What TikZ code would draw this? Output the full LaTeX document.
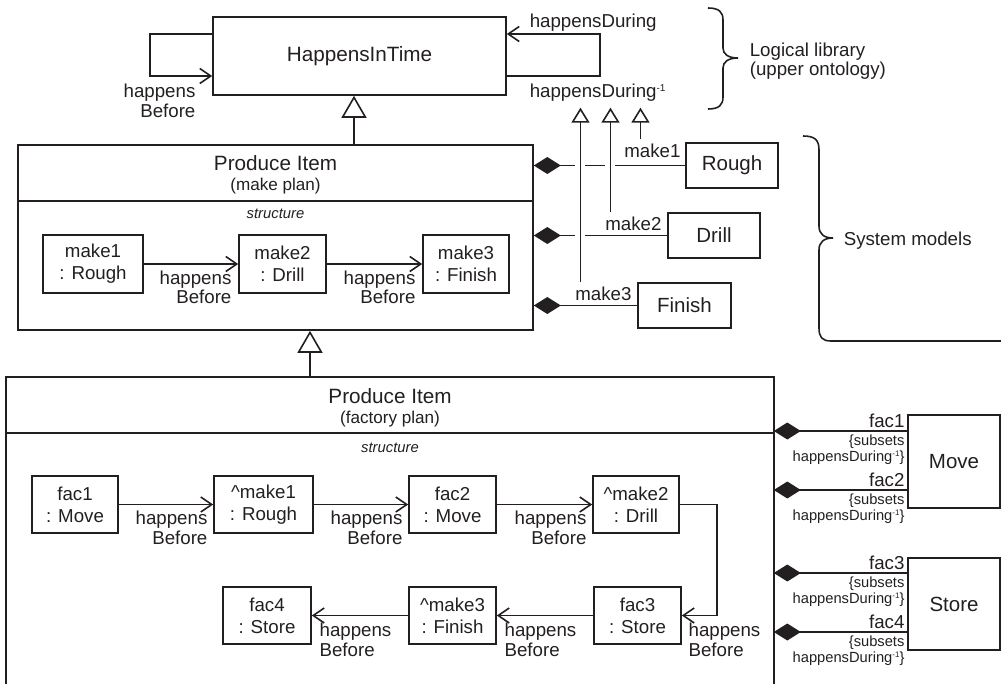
\documentclass[tikz,border=0pt]{standalone}
\usepackage{fontspec}
\setmainfont{Liberation Sans}
\usetikzlibrary{arrows.meta,calc}
\definecolor{ink}{RGB}{35,31,32}

% font sizes (1pt = one unit of the drawing)
\newcommand\fTitle{\fontsize{20.7}{24}\selectfont}
\newcommand\fSub{\fontsize{17.1}{20}\selectfont}
\newcommand\fBox{\fontsize{18.7}{22}\selectfont}
\newcommand\fBig{\fontsize{20.5}{24}\selectfont}
\newcommand\fLbl{\fontsize{18.7}{19.5}\selectfont}
\newcommand\fSmall{\fontsize{14.7}{16}\selectfont}
\newcommand\fStruct{\fontsize{14.8}{17}\selectfont\itshape}
% inverse-relation superscripts
\newcommand\invsup{\raisebox{6pt}{\fontsize{10}{10}\selectfont -1}}
\newcommand\invsupsm{\raisebox{4.8pt}{\fontsize{8}{8}\selectfont -1}}

\begin{document}
\begin{tikzpicture}[x=1pt, y=-1pt, line width=1.6pt, color=ink,
  every node/.style={inner sep=0pt},
  box/.style={draw, align=center},
  part/.style={box, font=\fBox, minimum height=57pt},
  cls/.style={box, font=\fBig, minimum height=45pt, minimum width=92pt},
  lbl/.style={font=\fLbl},
  sublbl/.style={font=\fSmall, align=right},
  hb/.style={-{Straight Barb[length=11pt,width=15pt]}},
  gen/.style={-{Triangle[open,length=22pt,width=25pt,fill=white]}},
  gensm/.style={-{Triangle[open,length=15pt,width=18pt,fill=white]}},
  comp/.style={{Diamond[length=27pt,width=17pt]}-},
  cross/.style={preaction={draw=white,line width=10pt,arrows=-}},
]
\useasboundingbox (0,0) rectangle (1001,683);

% ---------- upper ontology ----------
\node[box, font=\fTitle, minimum width=293pt, minimum height=78pt] (hit) at (359.5,56) {HappensInTime};
\coordinate (yA) at (0,34);
\coordinate (yB) at (0,76);
\draw[hb] (hit.west |- yA) -| (150,76) -- (hit.west |- yB)
  node[lbl, pos=1, anchor=north east, align=right, xshift=-16pt, yshift=-7.5pt] (hbtop) {happens\\Before};
\draw[hb] (hit.east |- yB) -| (600,34) -- (hit.east |- yA);
\node[lbl, anchor=base west] (hd) at (529,27) {happensDuring};
\node[lbl, anchor=base west] (hdinv) at (529,97) {happensDuring\invsup};

\draw (708,8) .. controls (719,8) and (723,12) .. (723,20) -- (723,48)
  .. controls (723,54) and (728,58) .. (738,58)
  .. controls (728,58) and (723,62) .. (723,68) -- (723,97)
  .. controls (723,105) and (719,109) .. (708,109);
\node[font=\fLbl, align=left, anchor=west] (loglib) at (749,61) {Logical library\\(upper ontology)};

% ---------- make plan ----------
\node[draw, minimum width=515pt, minimum height=185pt] (mp) at (275.5,237.5) {};
\coordinate (mpdiv) at (0,201);
\draw (mp.west |- mpdiv) -- (mp.east |- mpdiv);
\node[font=\fTitle, anchor=base] (mpt) at (275.5,170) {Produce Item};
\node[font=\fSub, anchor=base] (mps) at (275.5,190) {(make plan)};
\node[font=\fStruct, anchor=base] (mpst) at (275.5,218) {structure};

\node[part, minimum width=100pt, minimum height=58pt] (mk1) at (93,264) {make1\\: Rough};
\node[part, minimum width=87pt, minimum height=58pt] (mk2) at (282.5,264) {make2\\: Drill};
\node[part, minimum width=86pt, minimum height=58pt] (mk3) at (466,264) {make3\\: Finish};
\draw[hb] (mk1) -- (mk2) node[lbl, pos=1, anchor=north east, align=right, xshift=-6pt, yshift=-6pt] {happens\\Before};
\draw[hb] (mk2) -- (mk3) node[lbl, pos=1, anchor=north east, align=right, xshift=-6pt, yshift=-6pt] {happens\\Before};

\coordinate (g1) at ([xshift=-5.5pt]hit.south);
\draw[gen] (g1 |- mp.north) -- (g1);

% ---------- process classes ----------
\node[cls] (rough) at (732,165.5) {Rough};
\node[cls] (drill) at (714,235.5) {Drill};
\node[cls, minimum width=93pt] (finish) at (684.5,305.5) {Finish};

\draw[comp] (mp.east |- rough) -- (rough.west)
  node[lbl, pos=1, anchor=base east, xshift=-4pt, yshift=8.5pt] (mk1l) {make1};
\draw[comp] (mp.east |- drill) -- (drill.west)
  node[lbl, pos=1, anchor=base east, xshift=-5pt, yshift=5.5pt] (mk2l) {make2};
\draw[comp] (mp.east |- finish) -- (finish.west)
  node[lbl, pos=1, anchor=base east, xshift=-5pt, yshift=5.5pt] (mk3l) {make3};

\coordinate (hdi) at ([yshift=-6pt]hdinv.south);
\coordinate (v1) at ([xshift=17pt,yshift=4pt]mk1l.north west);
\coordinate (v2) at ([xshift=6pt,yshift=4pt]mk2l.north west);
\coordinate (v3) at ([xshift=6pt,yshift=4pt]mk3l.north west);
\draw[gensm, cross] (v3) -- (v3 |- hdi);
\draw[gensm, cross] (v2) -- (v2 |- hdi);
\draw[gensm, cross] (v1) -- (v1 |- hdi);

\draw (803,136) .. controls (815,136) and (819,140) .. (819,150) -- (819,226)
  .. controls (819,234) and (824,238) .. (833,238)
  .. controls (824,238) and (819,242) .. (819,250) -- (819,328)
  .. controls (819,337) and (822,341) .. (831,341) -- (1001,341);
\node[font=\fLbl, anchor=base west] (sysmod) at (843,245) {System models};

% ---------- factory plan ----------
\node[minimum width=766pt, minimum height=322pt] (fp) at (390,539) {};
\draw (fp.south west) -- (fp.north west) -- (fp.north east) -- (fp.south east);
\coordinate (fpdiv) at (0,433);
\draw (fp.west |- fpdiv) -- (fp.east |- fpdiv);
\node[font=\fTitle, anchor=base] (fpt) at (390,403) {Produce Item};
\node[font=\fSub, anchor=base] (fps) at (390,423) {(factory plan)};
\node[font=\fStruct, anchor=base] (fpst) at (390,452) {structure};

\coordinate (g2) at ([xshift=34.5pt]mp.south);
\draw[gen] (g2 |- fp.north) -- (g2);

\node[part, minimum width=86pt] (fac1) at (75,504.5) {fac1\\: Move};
\node[part, minimum width=99pt] (amk1) at (263.5,504.5) {\textasciicircum make1\\: Rough};
\node[part, minimum width=87pt] (fac2) at (452.5,504.5) {fac2\\: Move};
\node[part, minimum width=86pt] (amk2) at (636,504.5) {\textasciicircum make2\\: Drill};
\node[part, minimum width=88pt] (fac4) at (267,615.5) {fac4\\: Store};
\node[part, minimum width=87pt] (amk3) at (452.5,615.5) {\textasciicircum make3\\: Finish};
\node[part, minimum width=87pt] (fac3) at (637.5,615.5) {fac3\\: Store};

\draw[hb] (fac1) -- (amk1) node[lbl, pos=1, anchor=north east, align=right, xshift=-5pt, yshift=-6pt] {happens\\Before};
\draw[hb] (amk1) -- (fac2) node[lbl, pos=1, anchor=north east, align=right, xshift=-5pt, yshift=-6pt] {happens\\Before};
\draw[hb] (fac2) -- (amk2) node[lbl, pos=1, anchor=north east, align=right, xshift=-5pt, yshift=-6pt] {happens\\Before};
\draw[hb] (amk2.east) -- ++(37,0) |- (fac3.east)
  node[lbl, pos=1, anchor=north west, align=left, xshift=6pt, yshift=-7pt] {happens\\Before};
\draw[hb] (fac3) -- (amk3) node[lbl, pos=1, anchor=north west, align=left, xshift=7pt, yshift=-7pt] {happens\\Before};
\draw[hb] (amk3) -- (fac4) node[lbl, pos=1, anchor=north west, align=left, xshift=7pt, yshift=-7pt] {happens\\Before};

% ---------- factory resources ----------
\node[box, font=\fBig, minimum width=92pt, minimum height=93pt] (move) at (954,461.5) {Move};
\node[box, font=\fBig, minimum width=92pt, minimum height=92pt] (store) at (954,604) {Store};

\coordinate (m1) at ([yshift=30.5pt]move.west);
\coordinate (m2) at ([yshift=-28.5pt]move.west);
\coordinate (s1) at ([yshift=31pt]store.west);
\coordinate (s2) at ([yshift=-28pt]store.west);
\draw[comp] (fp.east |- m1) -- (m1)
  node[lbl, pos=1, anchor=base east, xshift=-2pt, yshift=4pt] {fac1}
  node[sublbl, pos=1, anchor=north east, xshift=-2pt, yshift=-3pt] {\{subsets\\happensDuring\invsupsm\}};
\draw[comp] (fp.east |- m2) -- (m2)
  node[lbl, pos=1, anchor=base east, xshift=-2pt, yshift=4pt] {fac2}
  node[sublbl, pos=1, anchor=north east, xshift=-2pt, yshift=-3pt] {\{subsets\\happensDuring\invsupsm\}};
\draw[comp] (fp.east |- s1) -- (s1)
  node[lbl, pos=1, anchor=base east, xshift=-2pt, yshift=4pt] {fac3}
  node[sublbl, pos=1, anchor=north east, xshift=-2pt, yshift=-3pt] {\{subsets\\happensDuring\invsupsm\}};
\draw[comp] (fp.east |- s2) -- (s2)
  node[lbl, pos=1, anchor=base east, xshift=-2pt, yshift=4pt] {fac4}
  node[sublbl, pos=1, anchor=north east, xshift=-2pt, yshift=-3pt] {\{subsets\\happensDuring\invsupsm\}};
\end{tikzpicture}
\end{document}
